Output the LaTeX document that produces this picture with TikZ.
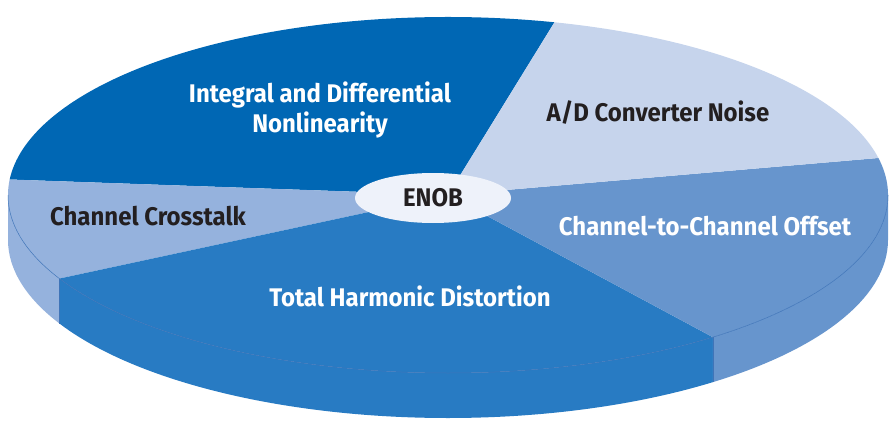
\documentclass[tikz,border=0pt]{standalone}
\usepackage{fontspec}
\setmainfont{Fira Sans}[FakeStretch=0.94]
\usepackage{tikz}
\usetikzlibrary{shapes.geometric}

\definecolor{diffblue}{HTML}{0067B4}
\definecolor{noiseblue}{HTML}{C6D4EC}
\definecolor{offsetblue}{HTML}{6795CD}
\definecolor{thdblue}{HTML}{287BC3}
\definecolor{talkblue}{HTML}{95B2DD}
\definecolor{rimblue}{HTML}{3F74B8}
\definecolor{enobfill}{HTML}{EEF2FA}
\definecolor{labeldark}{HTML}{231F20}

\tikzset{
  piefont/.style={font=\fontsize{25.5}{30}\selectfont\bfseries, align=center},
  darklabel/.style={piefont, text=white},
  lightlabel/.style={piefont, text=labeldark},
  rimline/.style={draw=rimblue, line width=0.5pt}
}

\begin{document}
\begin{tikzpicture}[x=1pt, y=1pt]
        \useasboundingbox (0,0) rectangle (893,421);

        % Side of the disc
        \fill[talkblue] (8,226) arc[start angle=180, end angle=208, x radius=440, y radius=178]
            -- ++(0,-45) arc[start angle=208, end angle=180, x radius=440, y radius=178] -- cycle;
        \fill[thdblue] ({448+440*cos(208)},{226+178*sin(208)}) arc[start angle=208, end angle=307, x radius=440, y radius=178]
            -- ++(0,-45) arc[start angle=307, end angle=208, x radius=440, y radius=178] -- cycle;
        \fill[offsetblue] ({448+440*cos(307)},{226+178*sin(307)}) arc[start angle=307, end angle=360, x radius=440, y radius=178]
            -- ++(0,-45) arc[start angle=360, end angle=307, x radius=440, y radius=178] -- cycle;
        \draw[rimline] ({448+440*cos(208)},{226+178*sin(208)}) -- ++(0,-45);
        \draw[rimline] ({448+440*cos(307)},{226+178*sin(307)}) -- ++(0,-45);

        % Top of the disc
        \fill[diffblue] (448,226) -- ({448+440*cos(76)},{226+178*sin(76)})
            arc[start angle=76, end angle=175, x radius=440, y radius=178] -- cycle;
        \fill[talkblue] (448,226) -- ({448+440*cos(175)},{226+178*sin(175)})
            arc[start angle=175, end angle=208, x radius=440, y radius=178] -- cycle;
        \fill[thdblue] (448,226) -- ({448+440*cos(208)},{226+178*sin(208)})
            arc[start angle=208, end angle=307, x radius=440, y radius=178] -- cycle;
        \fill[offsetblue] (448,226) -- ({448+440*cos(307)},{226+178*sin(307)})
            arc[start angle=307, end angle=372, x radius=440, y radius=178] -- cycle;
        \fill[noiseblue] (448,226) -- ({448+440*cos(12)},{226+178*sin(12)})
            arc[start angle=12, end angle=76, x radius=440, y radius=178] -- cycle;
        \draw[rimline] (8,226) arc[start angle=180, end angle=360, x radius=440, y radius=178];

        % Centre
        \node[ellipse, fill=enobfill, minimum width=156, minimum height=50, inner sep=0pt,
              lightlabel] (enob) at (433,223) {ENOB};

        % Slice labels
        \node[darklabel] (diff) at (320,311) {Integral and Differential\\Nonlinearity};
        \node[lightlabel] (noise) at (658,308) {A/D Converter Noise};
        \node[lightlabel] (talk) at (148,205) {Channel Crosstalk};
        \node[darklabel] (offset) at (705,195) {Channel-to-Channel Offset};
        \node[darklabel] (thd) at (410,125) {Total Harmonic Distortion};
\end{tikzpicture}
\end{document}
